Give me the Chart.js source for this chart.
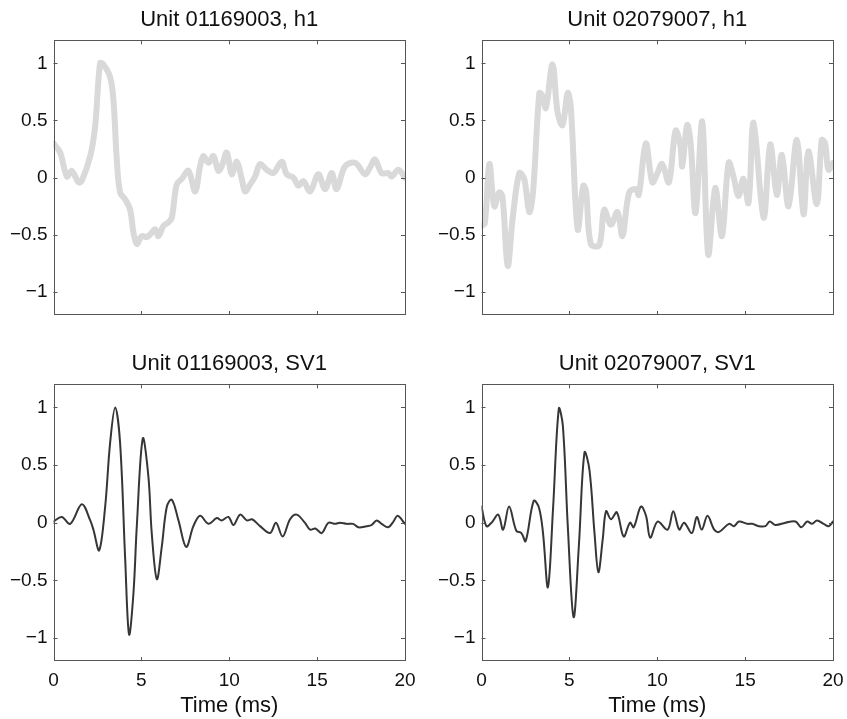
<!DOCTYPE html>
<html>
<head>
<meta charset="utf-8">
<script src="https://cdn.jsdelivr.net/npm/chart.js@4.4.1/dist/chart.umd.min.js"></script>
<style>
  body { margin: 0; background: #fff; overflow: hidden; }
  canvas { position: absolute; }
</style>
</head>
<body>
<canvas id="h1a" width="423" height="344" style="left:0;top:0"></canvas>
<canvas id="h1b" width="419" height="344" style="left:428px;top:0"></canvas>
<canvas id="sva" width="423" height="375" style="left:0;top:344px"></canvas>
<canvas id="svb" width="419" height="375" style="left:428px;top:344px"></canvas>
<script>
// tick values shared by every panel
const xTicks = [0, 5, 10, 15, 20];
const yTicks = [-1, -0.5, 0, 0.5, 1];

// Unit 01169003, h1
const timeH1a = [0, 0.38, 0.76, 1.04, 1.42, 1.6, 2.09, 2.37, 2.65, 2.84, 3.22, 3.41, 3.6, 3.79, 4.08, 4.36, 4.55, 4.74, 5.02, 5.31, 5.59, 5.78, 5.97, 6.26, 6.54, 6.73, 7.01, 7.3, 7.68, 8.06, 8.34, 8.53, 8.82, 9.1, 9.38, 9.57, 9.86, 10.14, 10.43, 10.71, 10.9, 11.18, 11.47, 11.75, 12.13, 12.51, 12.98, 13.27, 13.65, 13.93, 14.22, 14.6, 15.07, 15.45, 15.83, 16.11, 16.59, 17.16, 17.73, 18.01, 18.29, 18.67, 19.05, 19.24, 19.62, 20];
const h1a = [0.3, 0.22, 0.01, 0.06, -0.04, -0.03, 0.19, 0.45, 1.0, 0.99, 0.88, 0.68, 0.16, -0.13, -0.19, -0.28, -0.48, -0.58, -0.51, -0.52, -0.48, -0.45, -0.51, -0.42, -0.39, -0.35, -0.06, -0.01, 0.06, -0.12, 0.1, 0.19, 0.13, 0.19, 0.06, 0.1, 0.22, 0.03, 0.14, -0.01, -0.12, -0.06, 0.01, 0.12, 0.07, 0.04, 0.14, 0.03, 0, -0.07, -0.03, -0.12, 0.03, -0.1, 0.04, -0.1, 0.1, 0.13, 0.03, 0.09, 0.16, 0.04, 0.04, 0.01, 0.07, 0];

// Unit 02079007, h1
const timeH1b = [0, 0.19, 0.45, 0.73, 1.0, 1.19, 1.49, 1.77, 2.15, 2.43, 2.72, 2.93, 3.29, 3.45, 3.66, 4.04, 4.33, 4.61, 4.9, 5.08, 5.47, 5.79, 5.95, 6.22, 6.7, 6.98, 7.36, 7.74, 8.02, 8.4, 8.78, 8.95, 9.35, 9.72, 10.01, 10.28, 10.66, 11.04, 11.32, 11.42, 11.7, 11.9, 12.18, 12.56, 12.9, 13.3, 13.68, 14.06, 14.34, 14.62, 14.9, 15.19, 15.48, 16.05, 16.43, 16.8, 17.09, 17.47, 17.94, 18.32, 18.6, 19.08, 19.36, 19.55, 19.74, 20];
const h1b = [-0.42, -0.4, 0.12, -0.25, -0.13, -0.16, -0.77, -0.36, 0.04, -0.01, -0.3, -0.13, 0.74, 0.72, 0.61, 0.99, 0.57, 0.46, 0.74, 0.62, -0.45, -0.07, -0.12, -0.58, -0.59, -0.28, -0.41, -0.3, -0.51, -0.13, -0.1, -0.15, 0.3, -0.04, 0.04, 0.12, -0.04, 0.41, 0.28, 0.1, 0.46, 0.3, -0.31, 0.49, -0.67, -0.09, -0.51, 0.13, 0.01, -0.16, -0.01, -0.22, 0.48, -0.35, 0.29, -0.15, 0.2, -0.25, 0.33, -0.32, 0.23, -0.23, 0.33, 0.3, 0.07, 0.13];

// Unit 01169003, SV1
const timeSva = [0, 0.47, 0.95, 1.61, 2.09, 2.27, 2.6, 2.94, 3.22, 3.51, 3.79, 4.08, 4.3, 4.55, 4.74, 5.08, 5.4, 5.59, 5.88, 6.16, 6.45, 6.73, 7.11, 7.55, 7.96, 8.34, 8.82, 9.29, 9.57, 9.95, 10.24, 10.62, 11.0, 11.3, 11.75, 12.32, 12.66, 13.04, 13.46, 13.84, 14.3, 14.6, 14.9, 15.26, 15.64, 16.02, 16.3, 16.68, 17.05, 17.35, 17.82, 18.1, 18.39, 18.67, 19.05, 19.34, 19.58, 20];
const sva = [0.01, 0.05, -0.01, 0.16, 0.02, -0.06, -0.24, 0.14, 0.69, 1.0, 0.69, -0.32, -0.97, -0.61, -0.03, 0.73, 0.4, -0.09, -0.49, -0.21, 0.14, 0.2, 0.02, -0.21, -0.03, 0.06, -0.01, 0.04, 0.02, 0.05, -0.02, 0.07, 0.02, 0.03, -0.03, -0.09, 0, -0.12, 0.03, 0.07, 0, -0.06, -0.05, -0.09, 0, -0.01, 0, -0.01, -0.01, -0.04, -0.03, -0.02, 0.02, -0.01, -0.04, 0.01, 0.06, -0.01];

// Unit 02079007, SV1
const timeSvb = [0, 0.28, 0.57, 0.95, 1.23, 1.57, 1.98, 2.27, 2.51, 2.97, 3.27, 3.5, 3.78, 4.07, 4.4, 4.63, 4.91, 5.24, 5.54, 5.86, 6.14, 6.43, 6.65, 6.9, 7.09, 7.37, 7.7, 8.09, 8.45, 8.66, 9.07, 9.36, 9.6, 10.02, 10.59, 10.91, 11.25, 11.53, 11.97, 12.25, 12.53, 12.86, 13.24, 13.52, 14.08, 14.37, 14.65, 15.12, 15.4, 15.78, 16.15, 16.4, 16.73, 17.3, 17.86, 18.2, 18.53, 18.81, 19.09, 19.47, 19.76, 20];
const svb = [0.14, -0.03, 0, 0.07, -0.06, 0.14, -0.07, -0.09, -0.16, 0.19, 0.13, -0.09, -0.56, 0.12, 0.99, 0.84, -0.03, -0.82, -0.2, 0.61, 0.46, -0.09, -0.43, -0.14, 0.1, 0.03, 0.09, -0.12, 0, -0.04, 0.14, 0.06, -0.13, 0.01, -0.06, 0.1, -0.06, 0, -0.09, 0.05, -0.06, 0.06, -0.06, -0.08, -0.01, -0.03, 0.01, -0.01, -0.01, -0.03, -0.03, 0.01, -0.02, 0, 0.01, -0.04, 0.01, -0.01, 0.02, -0.01, -0.03, 0.01];

const fontFamily = 'Arial, "Liberation Sans", Helvetica, sans-serif';

// MATLAB style box with ticks pointing inwards on all four sides
const boxTicks = {
  id: 'boxTicks',
  afterDatasetsDraw(chart) {
    const { ctx, chartArea: a, scales: { x, y } } = chart;
    ctx.save();
    ctx.strokeStyle = '#555';
    ctx.lineWidth = 1;
    ctx.strokeRect(Math.round(a.left) + 0.5, Math.round(a.top) + 0.5,
      Math.round(a.right - a.left) - 1, Math.round(a.bottom - a.top) - 1);
    ctx.beginPath();
    xTicks.forEach(v => {
      const px = Math.round(x.getPixelForValue(v)) + 0.5;
      ctx.moveTo(px, a.top); ctx.lineTo(px, a.top + 4);
      ctx.moveTo(px, a.bottom); ctx.lineTo(px, a.bottom - 4);
    });
    yTicks.forEach(v => {
      const py = Math.round(y.getPixelForValue(v)) + 0.5;
      ctx.moveTo(a.left, py); ctx.lineTo(a.left + 4, py);
      ctx.moveTo(a.right, py); ctx.lineTo(a.right - 4, py);
    });
    ctx.stroke();
    ctx.restore();
  }
};

const makePanel = (id, title, times, values, color, width, bottomRow, padRight) => {
  const points = times.map((t, i) => ({ x: t, y: values[i] }));
  new Chart(document.getElementById(id), {
    type: 'line',
    data: {
      datasets: [{
        data: points,
        borderColor: color,
        borderWidth: width,
        borderJoinStyle: 'round',
        borderCapStyle: 'round',
        pointRadius: 0,
        tension: 0.35,
        fill: false
      }]
    },
    options: {
      responsive: false,
      animation: false,
      events: [],
      layout: { padding: { left: 0, right: padRight, top: 0, bottom: 0 } },
      plugins: {
        legend: { display: false },
        tooltip: { enabled: false },
        title: {
          display: true,
          fullSize: false,
          text: title,
          color: '#111',
          font: { family: fontFamily, size: 22, weight: 'normal' },
          padding: { top: 7, bottom: 7 }
        }
      },
      scales: {
        x: {
          type: 'linear',
          min: 0,
          max: 20,
          afterBuildTicks: s => { s.ticks = xTicks.map(v => ({ value: v })); },
          afterFit: s => {
            s.height = bottomRow ? 58 : 29;
            s.paddingLeft = 0;
            s.paddingRight = 0;
          },
          grid: { display: false, drawTicks: false },
          border: { display: false },
          ticks: {
            display: bottomRow,
            padding: 8,
            maxRotation: 0,
            color: '#111',
            font: { family: fontFamily, size: 19 }
          },
          title: {
            display: bottomRow,
            text: 'Time (ms)',
            color: '#111',
            font: { family: fontFamily, size: 22 },
            padding: { top: 0, bottom: 0 }
          }
        },
        y: {
          type: 'linear',
          min: -1.2,
          max: 1.2,
          afterBuildTicks: s => { s.ticks = yTicks.map(v => ({ value: v })); },
          afterFit: s => { s.width = 53.5; },
          grid: { display: false, drawTicks: false },
          border: { display: false },
          ticks: {
            padding: 6,
            color: '#111',
            font: { family: fontFamily, size: 19 },
            callback: v => String(v).replace('-', '\u2212')
          }
        }
      }
    },
    plugins: [boxTicks]
  });
};

makePanel('h1a', 'Unit 01169003, h1', timeH1a, h1a, '#d9d9d9', 6, false, 18);
makePanel('h1b', 'Unit 02079007, h1', timeH1b, h1b, '#d9d9d9', 6, false, 14);
makePanel('sva', 'Unit 01169003, SV1', timeSva, sva, '#363636', 2, true, 18);
makePanel('svb', 'Unit 02079007, SV1', timeSvb, svb, '#363636', 2, true, 14);
</script>
</body>
</html>
